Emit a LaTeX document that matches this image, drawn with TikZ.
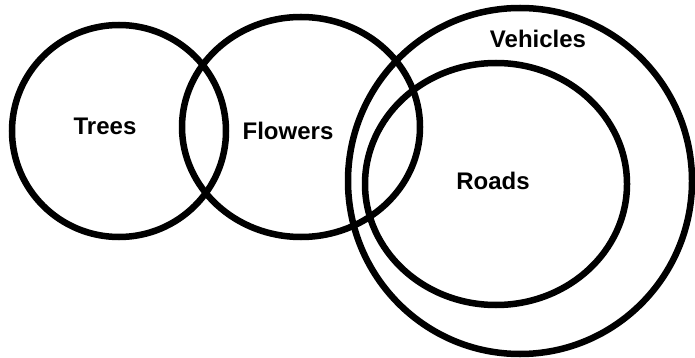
\documentclass[tikz,border=0pt]{standalone}
\usepackage{fontspec}
\setmainfont{Liberation Sans}
\usetikzlibrary{shapes.geometric}

\begin{document}
\begin{tikzpicture}[x=1pt, y=-1pt,
    setcircle/.style={ellipse, draw, line width=6.5pt, inner sep=0pt, minimum width=#1},
    setlabel/.style={font=\fontsize{24}{28}\selectfont\bfseries, inner sep=0pt}]
    \useasboundingbox (0,0) rectangle (695,358);
    % The four sets
    \node[setcircle=214pt, minimum height=212pt] (trees) at (119,131) {};
    \node[setcircle=238pt, minimum height=220pt] (flowers) at (301,127) {};
    \node[setcircle=344pt, minimum height=346pt] (vehicles) at (520,181) {};
    \node[setcircle=262pt, minimum height=242pt] (roads) at (496,184) {};
    % Labels
    \node[setlabel] (treeslabel) at (105,126) {Trees};
    \node[setlabel] (flowerslabel) at (288,131) {Flowers};
    \node[setlabel] (vehicleslabel) at (538,39) {Vehicles};
    \node[setlabel] (roadslabel) at (493,181) {Roads};
\end{tikzpicture}
\end{document}
